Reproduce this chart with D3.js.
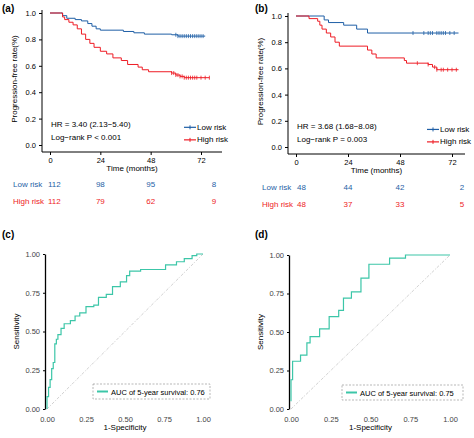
<!DOCTYPE html>
<html><head><meta charset="utf-8">
<script src="https://cdn.jsdelivr.net/npm/d3@7"></script>
<style>body{margin:0;background:#fff}text{font-family:"Liberation Sans",Arial,sans-serif}</style>
</head><body><div id="chart"></div>
<script>
// KM curves: [months, survival]
const aLow = [[0,1],[5,1],[6,0.98],[8,0.96],[12,0.95],[15,0.94],[18,0.92],[20,0.9],[22,0.88],[24,0.87],[35,0.86],[40,0.85],[45,0.84],[58,0.835],[61,0.825],[74,0.825]];
const aHigh = [[0,1],[5,1],[6,0.97],[7,0.95],[9,0.93],[11,0.91],[13,0.88],[15,0.84],[17,0.8],[19,0.77],[21,0.74],[24,0.71],[27,0.69],[30,0.66],[34,0.64],[37,0.61],[42,0.59],[44,0.57],[47,0.555],[58,0.545],[60,0.53],[62,0.52],[64,0.51],[76,0.51]];
const bLow = [[0,1],[12,1],[13,0.97],[15,0.95],[22,0.93],[28,0.9],[33,0.87],[75,0.87]];
const bHigh = [[0,1],[5,1],[6,0.98],[10,0.96],[11,0.93],[12,0.9],[14,0.87],[16,0.84],[18,0.8],[20,0.77],[33,0.74],[35,0.71],[37,0.68],[50,0.66],[51,0.64],[61,0.63],[63,0.61],[65,0.59],[75,0.59]];
const aLowCens = [60,61,62,63,64,65,66,67,68,69,70,71,72,73];
const aHighCens = [58,59,60,61,62,63,64,65,66,67,68,69,70,72,74,76];
const bLowCens = [54,59,61,62,63,65,66,67,68,69,71,73];
const bHighCens = [56,61,64,65,67,68,70,72,74];
const kmTicks = [0,24,48,72];
const riskTimes = [0,24,48,72];
const aLowRisk = [112,98,95,8], aHighRisk = [112,79,62,9];
const bLowRisk = [48,44,42,2], bHighRisk = [48,37,33,5];
// ROC: [1-specificity, sensitivity]
const rocC = [[0,0],[0,0.08],[0.01,0.14],[0.02,0.19],[0.03,0.26],[0.04,0.3],[0.05,0.42],[0.06,0.45],[0.07,0.48],[0.09,0.52],[0.11,0.55],[0.15,0.57],[0.18,0.6],[0.21,0.62],[0.25,0.66],[0.3,0.67],[0.33,0.72],[0.38,0.74],[0.42,0.79],[0.47,0.82],[0.51,0.86],[0.53,0.89],[0.6,0.9],[0.74,0.9],[0.76,0.93],[0.83,0.95],[0.88,0.97],[0.93,0.99],[0.96,1],[1,1]];
const rocD = [[0,0.05],[0,0.19],[0.01,0.31],[0.06,0.35],[0.1,0.43],[0.12,0.47],[0.18,0.52],[0.24,0.6],[0.3,0.64],[0.33,0.72],[0.38,0.76],[0.44,0.85],[0.49,0.94],[0.62,0.98],[0.72,1.0],[1,1]];
const rocTicks = [0,0.25,0.5,0.75,1];

const blue = "#1f5fa6", red = "#ee1c25", teal = "#3cc6a8";
const svg = d3.select("#chart").append("svg").attr("width",474).attr("height",438);

function km(o){
  const g = svg.append("g");
  const x = d3.scaleLinear().domain([0,72]).range([o.x0,o.x72]);
  const y = d3.scaleLinear().domain([0,1]).range([o.y0,o.y1]);
  g.append("text").attr("x",o.lx).attr("y",o.ly).attr("font-size",10).attr("font-weight","bold").text(o.label);
  g.append("g").attr("transform",`translate(${o.ax},0)`)
    .call(d3.axisLeft(y).tickValues([0,0.2,0.4,0.6,0.8,1]).tickFormat(d3.format(".1f")).tickSize(3).tickSizeOuter(0))
    .call(s=>s.select(".domain").attr("d",`M0,${o.y1-3}V${o.by}`));
  g.append("g").attr("transform",`translate(0,${o.by})`)
    .call(d3.axisBottom(x).tickValues(kmTicks).tickSize(3).tickSizeOuter(0))
    .call(s=>s.select(".domain").attr("d",`M${o.ax},0H${o.xe}`));
  g.selectAll(".tick text").attr("font-size",7.5).attr("font-family","Liberation Sans");
  g.append("text").attr("transform","rotate(-90)").attr("x",-(o.y0+o.y1)/2).attr("y",o.ax-25)
    .attr("text-anchor","middle").attr("font-size",8).text("Progression-free rate(%)");
  g.append("text").attr("x",(o.ax+o.xe)/2).attr("y",o.by+19).attr("text-anchor","middle").attr("font-size",8).text("Time (months)");
  const line = d3.line().x(d=>x(d[0])).y(d=>y(d[1])).curve(d3.curveStepAfter);
  [[o.low,blue,o.lowC],[o.high,red,o.highC]].forEach(([data,c,cens])=>{
    g.append("path").attr("d",line(data)).attr("fill","none").attr("stroke",c).attr("stroke-width",1);
    const surv = t=>{let v=1;data.forEach(d=>{if(d[0]<=t)v=d[1];});return v;};
    g.selectAll(null).data(cens).enter().append("path")
      .attr("d",t=>`M${x(t)},${y(surv(t))-2}v4`).attr("stroke",c).attr("stroke-width",0.8);
  });
  g.append("text").attr("x",o.ax+9).attr("y",y(0.14)).attr("font-size",8).text(o.hr);
  g.append("text").attr("x",o.ax+9).attr("y",y(0.04)).attr("font-size",8).text(o.p);
  [[blue,"Low risk",0.115],[red,"High risk",0.02]].forEach(([c,t,v])=>{
    g.append("line").attr("x1",o.legx).attr("x2",o.legx+12).attr("y1",y(v)-2.5).attr("y2",y(v)-2.5).attr("stroke",c).attr("stroke-width",1.2);
    g.append("path").attr("d",`M${o.legx+6},${y(v)-4.5}v4`).attr("stroke",c);
    g.append("text").attr("x",o.legx+13).attr("y",y(v)).attr("font-size",8).text(t);
  });
  [[o.lowR,blue,"Low risk",o.r1],[o.highR,red,"High risk",o.r2]].forEach(([vals,c,t,ry])=>{
    g.append("text").attr("x",o.tx).attr("y",ry).attr("fill",c).attr("font-size",8).text(t);
    g.selectAll(null).data(vals).enter().append("text")
      .attr("x",(d,i)=>i===0?o.tx+(o.tx0):x(riskTimes[i])+(i===3?o.lastOff:0)).attr("y",ry)
      .attr("text-anchor",(d,i)=>i===0?"start":"middle").attr("fill",c).attr("font-size",8).text(d=>d);
  });
}

km({label:"(a)",lx:2,ly:12,ax:42,x0:50,x72:201,xe:222,y0:145,y1:13,by:152,
  low:aLow,high:aHigh,lowC:aLowCens,highC:aHighCens,hr:"HR = 3.40 (2.13−5.40)",p:"Log−rank P < 0.001",
  legx:184,lowR:aLowRisk,highR:aHighRisk,tx:13,tx0:35,r1:187,r2:204,lastOff:13});
km({label:"(b)",lx:255,ly:12,ax:288,x0:296,x72:452,xe:465,y0:147,y1:16,by:154,
  low:bLow,high:bHigh,lowC:bLowCens,highC:bHighCens,hr:"HR = 3.68 (1.68−8.08)",p:"Log−rank P = 0.003",
  legx:427,lowR:bLowRisk,highR:bHighRisk,tx:262,tx0:35,r1:190,r2:207,lastOff:10});

function roc(o){
  const g = svg.append("g");
  const x = d3.scaleLinear().domain([0,1]).range([o.x0,o.x1]);
  const y = d3.scaleLinear().domain([0,1]).range([o.y0,o.y1]);
  g.append("text").attr("x",o.lx).attr("y",o.ly).attr("font-size",10).attr("font-weight","bold").text(o.label);
  g.append("g").attr("transform",`translate(${o.ax},0)`)
    .call(d3.axisLeft(y).tickValues(rocTicks).tickFormat(d3.format(".2f")).tickSize(2).tickSizeOuter(0))
    .call(s=>s.select(".domain").attr("stroke-width",1.3));
  g.append("g").attr("transform",`translate(0,${o.y0+5})`)
    .call(d3.axisBottom(x).tickValues(rocTicks).tickFormat(d3.format(".2f")).tickSize(0))
    .call(s=>s.select(".domain").remove());
  g.selectAll(".tick text").attr("font-size",7.5).attr("fill","#444");
  g.append("text").attr("transform","rotate(-90)").attr("x",-(o.y0+o.y1)/2).attr("y",o.ax-26)
    .attr("text-anchor","middle").attr("font-size",8).text("Sensitivity");
  g.append("text").attr("x",(o.x0+o.x1)/2).attr("y",o.y0+21).attr("text-anchor","middle").attr("font-size",8).text("1-Specificity");
  g.append("line").attr("x1",x(0)).attr("y1",y(0)).attr("x2",x(1)).attr("y2",y(1))
    .attr("stroke","#bbb").attr("stroke-width",0.7).attr("stroke-dasharray","3,1.5,1,1.5");
  const line = d3.line().x(d=>x(d[0])).y(d=>y(d[1])).curve(d3.curveStepAfter);
  g.append("path").attr("d",line(o.data)).attr("fill","none").attr("stroke",teal).attr("stroke-width",1.2);
  g.append("rect").attr("x",o.bx).attr("y",o.by).attr("width",o.bw).attr("height",15)
    .attr("fill","none").attr("stroke","#888").attr("stroke-width",0.6).attr("stroke-dasharray","2,1.5");
  g.append("line").attr("x1",o.bx+4).attr("x2",o.bx+15).attr("y1",o.by+7.5).attr("y2",o.by+7.5).attr("stroke",teal).attr("stroke-width",2);
  g.append("text").attr("x",o.bx+18).attr("y",o.by+10.5).attr("font-size",7.5).text(o.auc);
}
roc({label:"(c)",lx:2,ly:238,ax:45,x0:47,x1:203,y0:409,y1:254,data:rocC,bx:93,by:384,bw:117,auc:"AUC of 5-year survival: 0.76"});
roc({label:"(d)",lx:255,ly:238,ax:289,x0:291,x1:450,y0:409,y1:255,data:rocD,bx:342,by:385,bw:121,auc:"AUC of 5-year survival: 0.75"});
</script></body></html>
